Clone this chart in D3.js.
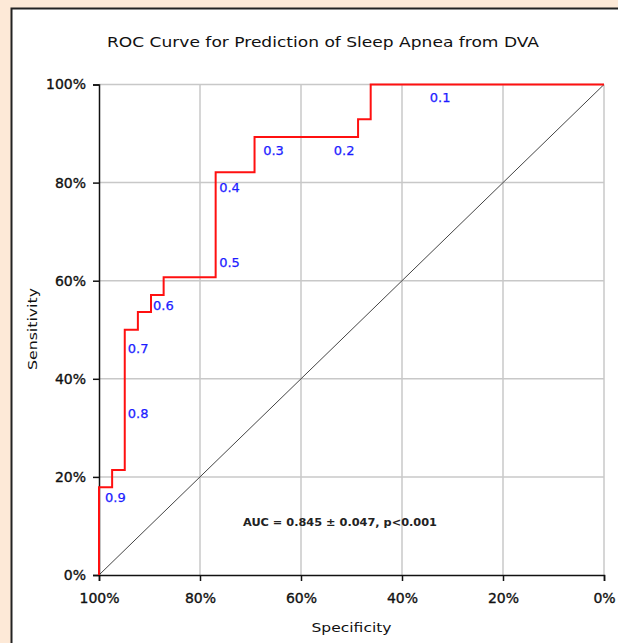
<!DOCTYPE html>
<html>
<head>
<meta charset="utf-8">
<script src="https://cdn.jsdelivr.net/npm/d3@7"></script>
<style>
  body { margin: 0; background: #fde9d7; }
  text { font-family: "DejaVu Sans", sans-serif; }
</style>
</head>
<body>
<div id="chart"></div>
<script>
// ROC corner points (specificity %, sensitivity %)
var rocSpec = [100, 97.4, 94.9, 92.3, 89.7, 87.2, 76.9, 69.2, 48.7, 46.2, 0];
var rocSens = [0, 17.9, 21.4, 50, 53.6, 57.1, 60.7, 82.1, 89.3, 92.9, 100];

// threshold labels and where they sit
var cutLabels = ["0.9", "0.8", "0.7", "0.6", "0.5", "0.4", "0.3", "0.2", "0.1"];
var cutSpec = [98.8, 94.3, 94.3, 89.3, 76.2, 76.2, 67.5, 53.5, 34.5];
var cutSens = [15.8, 32.9, 46.3, 55.0, 63.7, 79.1, 86.5, 86.5, 97.4];

var ticks = [100, 80, 60, 40, 20, 0];

var W = 618, H = 643;
var pLeft = 99, pRight = 604, pTop = 84.5, pBottom = 575;

var svg = d3.select("#chart").append("svg")
    .attr("width", W).attr("height", H);

svg.append("rect").attr("width", W).attr("height", H).attr("fill", "#fde9d7");
svg.append("rect")
    .attr("x", 11.5).attr("y", 8.5).attr("width", 640).attr("height", 660)
    .attr("fill", "#fff").attr("stroke", "#222").attr("stroke-width", 2);

var x = d3.scaleLinear().domain([100, 0]).range([pLeft, pRight]);
var y = d3.scaleLinear().domain([0, 100]).range([pBottom, pTop]);

// grid
svg.append("g").selectAll("line").data(ticks.filter(function(d){ return d != 100; }))
    .enter().append("line")
    .attr("x1", function(d){ return x(d); }).attr("x2", function(d){ return x(d); })
    .attr("y1", pTop).attr("y2", pBottom)
    .attr("stroke", "#c8c8c8").attr("stroke-width", 1.5);
svg.append("g").selectAll("line").data(ticks.filter(function(d){ return d != 0; }))
    .enter().append("line")
    .attr("x1", pLeft).attr("x2", pRight)
    .attr("y1", function(d){ return y(d); }).attr("y2", function(d){ return y(d); })
    .attr("stroke", "#c8c8c8").attr("stroke-width", 1.5);

// diagonal reference
svg.append("line")
    .attr("x1", x(100)).attr("y1", y(0)).attr("x2", x(0)).attr("y2", y(100))
    .attr("stroke", "#444").attr("stroke-width", 1);

// axes
var fmt = function(d){ return d + "%"; };
var ax = svg.append("g").attr("transform", "translate(0," + pBottom + ")")
    .call(d3.axisBottom(x).tickValues(ticks).tickFormat(fmt).tickSize(6).tickPadding(12));
var ay = svg.append("g").attr("transform", "translate(" + pLeft + ",0)")
    .call(d3.axisLeft(y).tickValues(ticks).tickFormat(fmt).tickSize(6).tickPadding(7));
[ax, ay].forEach(function(g){
    g.select(".domain").attr("stroke", "#111").attr("stroke-width", 1.5);
    g.selectAll(".tick line").attr("stroke", "#111").attr("stroke-width", 1.5);
    g.selectAll("text").attr("font-family", "DejaVu Sans").attr("font-size", 14)
        .attr("fill", "#111").attr("stroke", "#111").attr("stroke-width", 0.35);
});

// ROC curve
var pts = rocSpec.map(function(s, i){ return [s, rocSens[i]]; });
svg.append("path")
    .attr("d", d3.line().x(function(d){ return x(d[0]); }).y(function(d){ return y(d[1]); })
        .curve(d3.curveStepBefore)(pts))
    .attr("fill", "none").attr("stroke", "#ff1010").attr("stroke-width", 2);

svg.append("g").selectAll("text").data(cutLabels).enter().append("text")
    .attr("x", function(d, i){ return x(cutSpec[i]); })
    .attr("y", function(d, i){ return y(cutSens[i]); })
    .attr("dy", "0.36em")
    .attr("font-size", 13).attr("fill", "#1c1cff")
    .attr("stroke", "#1c1cff").attr("stroke-width", 0.25)
    .text(function(d){ return d; });

// texts
svg.append("text").attr("x", 323).attr("y", 47).attr("text-anchor", "middle")
    .attr("font-size", 14).attr("fill", "#111")
    .attr("textLength", 432).attr("lengthAdjust", "spacingAndGlyphs")
    .text("ROC Curve for Prediction of Sleep Apnea from DVA");

svg.append("text").attr("x", 340).attr("y", 526).attr("text-anchor", "middle")
    .attr("font-size", 11).attr("font-weight", "bold").attr("fill", "#222")
    .attr("textLength", 194).attr("lengthAdjust", "spacingAndGlyphs")
    .text("AUC = 0.845 \u00b1 0.047, p<0.001");

svg.append("text").attr("x", (pLeft + pRight) / 2).attr("y", 632).attr("text-anchor", "middle")
    .attr("font-size", 13).attr("fill", "#111")
    .attr("textLength", 80).attr("lengthAdjust", "spacingAndGlyphs")
    .text("Specificity");

svg.append("text").attr("transform", "translate(37,329) rotate(-90)").attr("text-anchor", "middle")
    .attr("font-size", 13).attr("fill", "#111")
    .attr("textLength", 82).attr("lengthAdjust", "spacingAndGlyphs")
    .text("Sensitivity");
</script>
</body>
</html>
